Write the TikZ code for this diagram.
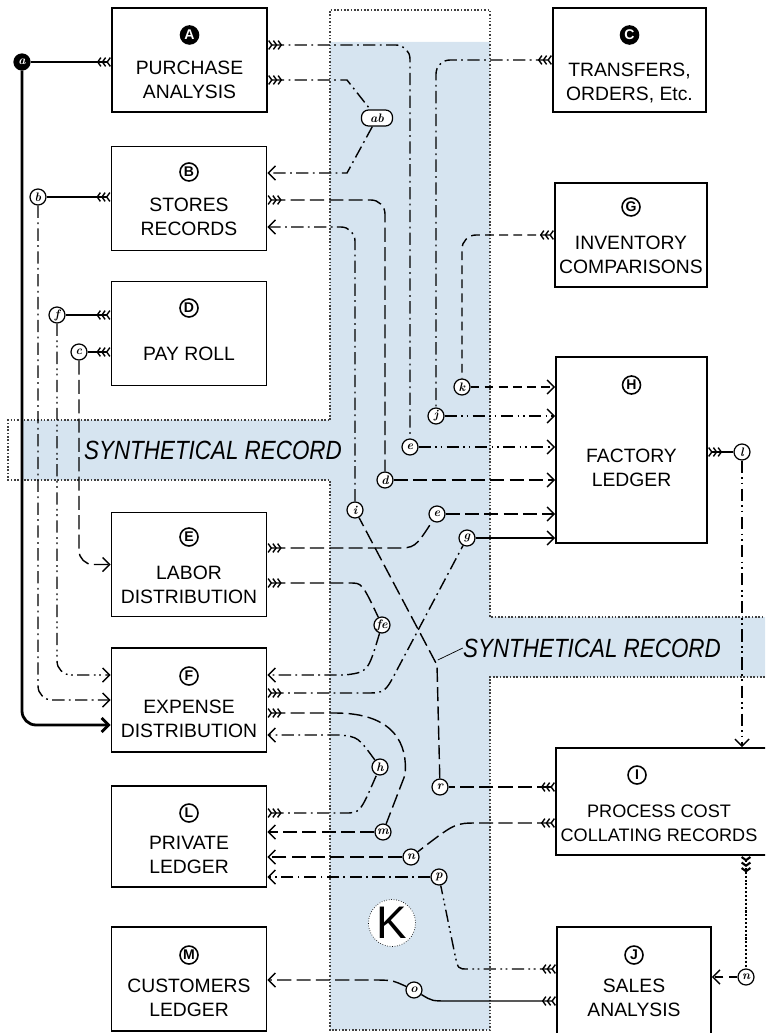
\documentclass[tikz,border=0pt]{standalone}
\usepackage{fontspec}
\usepackage{graphicx}
\setsansfont{Liberation Sans}
\usetikzlibrary{calc, arrows.meta, positioning}

\definecolor{bandblue}{RGB}{214,228,240}
\tikzset{
  box/.style={draw, line width=1.1pt, minimum width=3.1cm, minimum height=2.08cm, inner sep=0pt},
  boxtext/.style={font=\sffamily\fontsize{11}{13.6}\selectfont, align=center, inner sep=0pt},
  tag/.style={circle, draw, line width=0.9pt, inner sep=0pt, minimum size=0.36cm, font=\sffamily\bfseries\footnotesize},
  tagdark/.style={tag, fill=black, text=white},
  route/.style={circle, draw, fill=white, line width=0.7pt, inner sep=0pt, minimum size=0.32cm, font=\bfseries\itshape\scriptsize},
  link/.style={line width=0.8pt},
  dashdot/.style={link, dash pattern=on 7pt off 2.5pt on 1pt off 2.5pt},
  dashdotdot/.style={link, dash pattern=on 7pt off 2.5pt on 1pt off 2pt on 1pt off 2.5pt},
  longdash/.style={link, dash pattern=on 8pt off 3pt},
  shortdash/.style={link, dash pattern=on 5pt off 3pt},
  src/.style={arrows={Straight Barb[reversed,length=1.8pt,width=5pt,sep=0pt]Straight Barb[reversed,length=1.8pt,width=5pt,sep=0pt]Straight Barb[reversed,length=1.8pt,width=5pt]}-},
  dst/.style={arrows=-{Straight Barb[length=4pt,width=8pt]}},
  synth/.style={font=\sffamily\itshape\fontsize{15}{15}\selectfont, inner sep=0pt},
  bandline/.style={densely dotted, line width=0.9pt, black!75},
}

\begin{document}
\begin{tikzpicture}[x=0.02cm, y=-0.02cm]
    \useasboundingbox (0,0) rectangle (765,1033);
    \clip (0,0) rectangle (765,1033);

    % 1. Shaded bands (K)
    \fill[bandblue] (330,42) -- (490,42) -- (490,617) -- (765,617) -- (765,677)
        -- (490,677) -- (490,1030) -- (330,1030) -- (330,480) -- (22,480)
        -- (22,420) -- (330,420) -- cycle;
    \draw[bandline] (330,420) -- (330,10) -- (490,10) -- (490,617) -- (765,617)
        (765,677) -- (490,677) -- (490,1030) -- (330,1030) -- (330,480)
        -- (8,480) -- (8,420) -- (330,420);
    \node[synth] (sL) at (213,450) {\scalebox{0.85}[1]{SYNTHETICAL RECORD}};
    \node[synth] (sR) at (592,648) {\scalebox{0.85}[1]{SYNTHETICAL RECORD}};
    \draw[thin] (sR.west) -- ++(-25,12);
    \node[circle, draw, densely dotted, fill=white, minimum size=0.94cm, inner sep=0pt,
          font=\sffamily\fontsize{26}{26}\selectfont] (K) at (392,923) {K};

    % 2. Boxes, left column
    \node[box] (A) at (189.5,60) {};
    \node[tagdark] (tA) at (189.5,35) {A};
    \node[boxtext] (nA) at (189.5,80) {PURCHASE\\ANALYSIS};

    \node[box] (B) at (189,198.5) {};
    \node[tag] (tB) at (189,172) {B};
    \node[boxtext] (nB) at (189,217) {STORES\\RECORDS};

    \node[box] (D) at (189,333.5) {};
    \node[tag] (tD) at (189,308) {D};
    \node[boxtext] (nD) at (189,354) {PAY ROLL};

    \node[box] (E) at (189,564.5) {};
    \node[tag] (tE) at (189,537) {E};
    \node[boxtext] (nE) at (189,585) {LABOR\\DISTRIBUTION};

    \node[box] (F) at (189,700) {};
    \node[tag] (tF) at (189,676) {F};
    \node[boxtext] (nF) at (189,719) {EXPENSE\\DISTRIBUTION};

    \node[box, minimum height=2.02cm] (L) at (189,836.5) {};
    \node[tag] (tL) at (189,813) {L};
    \node[boxtext] (nL) at (189,855) {PRIVATE\\LEDGER};

    \node[box] (M) at (189,979) {};
    \node[tag] (tM) at (189,955) {M};
    \node[boxtext] (nM) at (189,998) {CUSTOMERS\\LEDGER};

    % 3. Boxes, right column
    \node[box, minimum width=3.06cm] (C) at (629.5,60) {};
    \node[tagdark] (tC) at (629.5,35) {C};
    \node[boxtext] (nC) at (629.5,83) {TRANSFERS,\\ORDERS, Etc.};

    \node[box, minimum width=3.04cm] (G) at (631,235) {};
    \node[tag] (tG) at (631,207) {G};
    \node[boxtext] (nG) at (631,255) {INVENTORY\\COMPARISONS};

    \node[box, minimum width=3.02cm, minimum height=3.72cm] (H) at (631.5,450) {};
    \node[tag] (tH) at (631.5,385) {H};
    \node[boxtext] (nH) at (631.5,468) {FACTORY\\LEDGER};

    \node[box, minimum width=4.68cm, minimum height=2.14cm] (I) at (673,801.5) {};
    \node[tag] (tI) at (637,775) {I};
    \node[boxtext, font=\sffamily\fontsize{10.3}{13.6}\selectfont] (nI) at (659,823) {PROCESS COST\\COLLATING RECORDS};

    \node[box, minimum width=3.08cm, minimum height=2.16cm] (J) at (634,981) {};
    \node[tag] (tJ) at (634,955) {J};
    \node[boxtext] (nJ) at (634,998) {SALES\\ANALYSIS};

    % 4. Route marks
    \node[route, fill=black, text=white] (ra) at (22,62) {a};
    \node[route, rectangle, rounded corners=4pt, minimum width=0.62cm] (rab) at (377,118) {ab};
    \node[route] (rb) at (38,197) {b};
    \node[route] (rf) at (57,315) {f};
    \node[route] (rc) at (79,352) {c};
    \node[route] (rk) at (462,387) {k};
    \node[route] (rj) at (436,416) {j};
    \node[route] (re) at (410,447) {e};
    \node[route] (rd) at (385,480) {d};
    \node[route] (ri) at (355,510) {i};
    \node[route] (re2) at (437,514) {e};
    \node[route] (rg) at (467,538) {g};
    \node[route] (rfe) at (382,625) {fe};
    \node[route] (rh) at (380,767) {h};
    \node[route] (rr) at (440,787) {r};
    \node[route] (rm) at (383,832) {m};
    \node[route] (rn) at (411,857) {n};
    \node[route] (rp) at (439,877) {p};
    \node[route] (ro) at (414,990) {o};
    \node[route] (rl) at (742,452) {l};
    \node[route] (rq) at (746,977) {n};

    % 5. Connectors, left of the boxes
    \draw[link, src] (A.west |- ra) -- (ra);
    \draw[line width=1.6pt, dst, rounded corners=8pt] (ra) |- ($(F.west)+(0,25)$);
    \draw[link, src] (B.west |- rb) -- (rb);
    \draw[dashdot, dst, rounded corners=8pt] (rb) |- (F.west);
    \draw[link, src] (D.west |- rf) -- (rf);
    \draw[dashdotdot, dst, rounded corners=8pt] (rf) |- ($(F.west)+(0,-25)$);
    \draw[link, src] (D.west |- rc) -- (rc);
    \draw[longdash, dst, rounded corners=8pt] (rc) |- (E.west);

    % 6. Connectors through the band
    \draw[dashdot, src, rounded corners=8pt] ($(A.east)+(0,-15)$) -| (re);
    \draw[dashdotdot, dst] (re) -- (H.west |- re);
    \draw[dashdot, src] ($(A.east)+(0,20)$) -- (347,80) -- (rab);
    \draw[dashdot, dst] (rab) -- (347,173) -- ($(B.east)+(0,-25.5)$);
    \draw[dashdot, src, rounded corners=8pt] (C.west) -| (rj);
    \draw[dashdotdot, dst] (rj) -- (H.west |- rj);
    \draw[shortdash, src, rounded corners=8pt] (G.west) -| (rk);
    \draw[shortdash, dst] (rk) -- (H.west |- rk);
    \draw[longdash, src, rounded corners=8pt] ($(B.east)+(0,1.5)$) -| (rd);
    \draw[longdash, dst] (rd) -- (H.west |- rd);
    \draw[longdash, src] (I.west |- rr) -- (rr);
    \draw[longdash] (rr) -- (437,665) -- (ri);
    \draw[dashdot, dst, rounded corners=8pt] (ri) |- ($(B.east)+(0,28.5)$);
    \draw[longdash, src] ($(E.east)+(0,-16.5)$) -- (395,548) .. controls (415,548) .. (re2);
    \draw[longdash, dst] (re2) -- (H.west |- re2);
    \draw[dashdot, src] ($(F.east)+(0,-7)$) -- (365,693) .. controls (385,693) .. (398,668) -- (rg);
    \draw[link, dst] (rg) -- (H.west |- rg);
    \draw[longdash, src] ($(E.east)+(0,18.5)$) -- (350,583) .. controls (362,583) .. (rfe);
    \draw[dashdot, dst] (rfe) .. controls (368,672) .. (345,675) -- ($(F.east)+(0,-25)$);
    \draw[longdash, src] ($(F.east)+(0,13)$) -- (335,713) .. controls (395,713) and (408,745) .. (405,775) -- (rm);
    \draw[longdash, dst] (rm) -- (L.east |- rm);
    \draw[dashdot, src] ($(L.east)+(0,-23.5)$) -- (345,813) .. controls (360,813) .. (rh);
    \draw[dashdot, dst] (rh) .. controls (358,737) .. (340,735) -- ($(F.east)+(0,35)$);
    \draw[longdash, src] ($(I.west)+(0,21.5)$) -- (478,823) .. controls (455,823) .. (rn);
    \draw[longdash, dst] (rn) -- (L.east |- rn);
    \draw[dashdotdot, src] ($(J.west)+(0,-12)$) -- (468,969) .. controls (458,969) .. (455,955) -- (rp);
    \draw[dashdot, dst] (rp) -- (L.east |- rp);
    \draw[link, src] ($(J.west)+(0,20)$) -- (448,1001) .. controls (432,1001) .. (ro);
    \draw[longdash, dst] (ro) .. controls (392,980) .. (370,980) -- ($(M.east)+(0,1)$);

    % 7. Connectors on the right
    \draw[link, src] (H.east |- rl) -- (rl);
    \draw[dashdotdot, dst] (rl) -- (rl |- I.north);
    \draw[line width=1.2pt, densely dotted, src] (I.south -| rq) -- (rq);
    \draw[shortdash, dst] (rq) -- (J.east |- rq);
\end{tikzpicture}
\end{document}
